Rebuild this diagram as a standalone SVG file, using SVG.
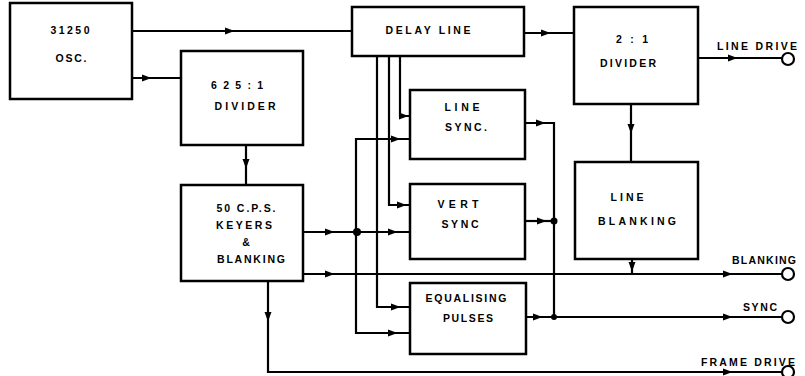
<svg xmlns="http://www.w3.org/2000/svg" xmlns:xlink="http://www.w3.org/1999/xlink" width="805" height="376" viewBox="0 0 805 376">
<style>
.box{fill:#fff;stroke:#000;stroke-width:2.5}
.ln{fill:none;stroke:#000;stroke-width:2.2}
.t{font-family:"Liberation Sans",Arial,sans-serif;font-weight:bold;font-size:10.5px;fill:#000;text-anchor:middle}
.term{fill:#fff;stroke:#000;stroke-width:2.2}
.dot{fill:#000}
</style>
<defs>
<path id="ar" d="M-5,-3.5 L4.5,0 L-5,3.5 Z" fill="#000"/>
</defs>
<rect width="805" height="376" fill="#fff"/>

<g id="connectors">
<path class="ln" d="M132,31 H352"/>
<path class="ln" d="M132,78 H181"/>
<path class="ln" d="M246,145 V185"/>
<path class="ln" d="M303,232 H410"/>
<path class="ln" d="M410,139 H356 V333 H410"/>
<path class="ln" d="M303,274 H782"/>
<path class="ln" d="M268,281 V372 H782"/>
<path class="ln" d="M524,33 H574"/>
<path class="ln" d="M698,58 H782"/>
<path class="ln" d="M631,104 V162"/>
<path class="ln" d="M632,259 V274"/>
<path class="ln" d="M400,56 V116 H410"/>
<path class="ln" d="M389,56 V205 H410"/>
<path class="ln" d="M377,56 V307 H410"/>
<path class="ln" d="M525,123 H554 V317"/>
<path class="ln" d="M525,221 H554"/>
<path class="ln" d="M526,317 H782"/>
<use xlink:href="#ar" transform="translate(230,31)"/>
<use xlink:href="#ar" transform="translate(147,78)"/>
<use xlink:href="#ar" transform="translate(246,164) rotate(90)"/>
<use xlink:href="#ar" transform="translate(330,232)"/>
<use xlink:href="#ar" transform="translate(393,232)"/>
<use xlink:href="#ar" transform="translate(396,139)"/>
<use xlink:href="#ar" transform="translate(393,333)"/>
<use xlink:href="#ar" transform="translate(330,274)"/>
<use xlink:href="#ar" transform="translate(728,274)"/>
<use xlink:href="#ar" transform="translate(268,317) rotate(90)"/>
<use xlink:href="#ar" transform="translate(728,372)"/>
<use xlink:href="#ar" transform="translate(546,33)"/>
<use xlink:href="#ar" transform="translate(733,58)"/>
<use xlink:href="#ar" transform="translate(631,129) rotate(90)"/>
<use xlink:href="#ar" transform="translate(632,267) rotate(90)"/>
<use xlink:href="#ar" transform="translate(404,116)"/>
<use xlink:href="#ar" transform="translate(402,205)"/>
<use xlink:href="#ar" transform="translate(396,307)"/>
<use xlink:href="#ar" transform="translate(541,123)"/>
<use xlink:href="#ar" transform="translate(542,221)"/>
<use xlink:href="#ar" transform="translate(538,317)"/>
<use xlink:href="#ar" transform="translate(728,317)"/>
<circle class="dot" cx="357" cy="232" r="4"/>
<circle class="dot" cx="554" cy="221" r="3.5"/>
<circle class="dot" cx="554" cy="317" r="3"/>
<circle class="term" cx="788" cy="59" r="6"/>
<circle class="term" cx="788" cy="274" r="6"/>
<circle class="term" cx="788" cy="317" r="6"/>
<circle class="term" cx="788" cy="372" r="6"/>
<text class="t" x="757" y="50" textLength="80" lengthAdjust="spacing">LINE DRIVE</text>
<text class="t" x="764" y="264" textLength="64" lengthAdjust="spacing">BLANKING</text>
<text class="t" x="760" y="311" textLength="34" lengthAdjust="spacing">SYNC</text>
<text class="t" x="748" y="366" textLength="94" lengthAdjust="spacing">FRAME DRIVE</text>
</g>

<g id="osc">
<rect class="box" x="10" y="3" width="122" height="96"/>
<text class="t" x="70" y="34" textLength="39" lengthAdjust="spacing">31250</text>
<text class="t" x="71" y="62" textLength="31" lengthAdjust="spacing">OSC.</text>
</g>

<g id="div625">
<rect class="box" x="181" y="51" width="122" height="94"/>
<text class="t" x="237" y="89" textLength="52" lengthAdjust="spacing">625:1</text>
<text class="t" x="245" y="110" textLength="61" lengthAdjust="spacing">DIVIDER</text>
</g>

<g id="keyers">
<rect class="box" x="181" y="185" width="122" height="96"/>
<text class="t" x="246" y="212" textLength="59" lengthAdjust="spacing">50 C.P.S.</text>
<text class="t" x="244" y="229" textLength="56" lengthAdjust="spacing">KEYERS</text>
<text class="t" x="246" y="246">&amp;</text>
<text class="t" x="251" y="263" textLength="68" lengthAdjust="spacing">BLANKING</text>
</g>

<g id="delay">
<rect class="box" x="352" y="7" width="172" height="49"/>
<text class="t" x="428" y="34" textLength="85" lengthAdjust="spacing">DELAY LINE</text>
</g>

<g id="div21">
<rect class="box" x="574" y="7" width="124" height="97"/>
<text class="t" x="632" y="43" textLength="32" lengthAdjust="spacing">2 : 1</text>
<text class="t" x="628" y="67" textLength="56" lengthAdjust="spacing">DIVIDER</text>
</g>

<g id="linesync">
<rect class="box" x="410" y="90" width="115" height="69"/>
<text class="t" x="462" y="111" textLength="35" lengthAdjust="spacing">LINE</text>
<text class="t" x="466" y="131" textLength="42" lengthAdjust="spacing">SYNC.</text>
</g>

<g id="vertsync">
<rect class="box" x="410" y="184" width="115" height="75"/>
<text class="t" x="458" y="208" textLength="41" lengthAdjust="spacing">VERT</text>
<text class="t" x="460" y="228" textLength="37" lengthAdjust="spacing">SYNC</text>
</g>

<g id="lineblank">
<rect class="box" x="575" y="162" width="123" height="97"/>
<text class="t" x="627" y="201" textLength="33" lengthAdjust="spacing">LINE</text>
<text class="t" x="637" y="225" textLength="78" lengthAdjust="spacing">BLANKING</text>
</g>

<g id="equal">
<rect class="box" x="410" y="283" width="116" height="71"/>
<text class="t" x="466" y="302" textLength="81" lengthAdjust="spacing">EQUALISING</text>
<text class="t" x="468" y="322" textLength="50" lengthAdjust="spacing">PULSES</text>
</g>
</svg>
